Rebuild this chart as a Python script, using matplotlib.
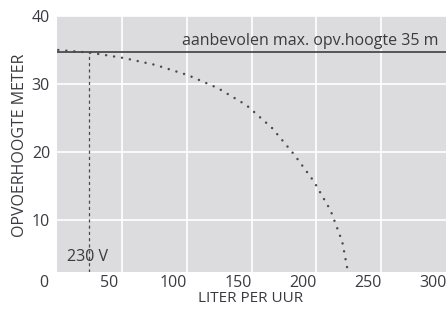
import matplotlib

matplotlib.use("Agg")
import matplotlib.pyplot as plt
import matplotlib.transforms as mtransforms

BG = "#dcdcde"
FG = "#3a3a40"
LINE = "#4a4a4e"

plt.rcParams.update({"font.family": ["Open Sans", "DejaVu Sans"], "font.size": 11})

# pump curve (230 V)
flow = [11, 36, 62, 86, 111, 134, 156, 176, 193, 208, 221, 230, 234]
head = [35.0, 34.6, 33.8, 32.8, 31.3, 29.4, 26.9, 23.5, 19.6, 15.7, 11.4, 6.8, 2.75]
max_head = 34.7
op_flow = 34.7
x_labels = [0, 50, 100, 150, 200, 250, 300]
x_grid = [60, 110, 160, 210, 260]
y_ticks = [10, 20, 30, 40]

fig = plt.figure(figsize=(4.46, 3.13), dpi=100)
ax = fig.add_axes([57 / 446, 41 / 313, 389 / 446, 256 / 313])
ax.set_facecolor(BG)
ax.set_xlim(10, 310)
ax.set_ylim(2.35, 40)
for s in ax.spines.values():
    s.set_visible(False)

ax.set_xticks(x_grid)
ax.set_xticklabels([])
ax.set_yticks(y_ticks)
ax.tick_params(length=0, colors=FG, labelsize=11.5, pad=5)
ax.grid(True, color="white", lw=1.2)
ax.set_axisbelow(True)

# x labels sit a little left of the grid lines, as in the original
xtrans = mtransforms.blended_transform_factory(ax.transData, ax.transAxes)
for v in x_labels:
    ax.text(v, -0.043, str(v), transform=xtrans, ha="center", va="center",
            color=FG, fontsize=11.5, clip_on=False)

ax.axhline(max_head, color=LINE, lw=1.3)
ax.plot([op_flow, op_flow], [2.35, max_head], color=LINE, lw=0.9,
        linestyle=(0, (2.5, 2.5)))
ax.plot(flow, head, color=LINE, lw=1.8, linestyle=(0, (0.01, 3.2)),
        dash_capstyle="round")

ytrans = mtransforms.blended_transform_factory(ax.transAxes, ax.transData)
ax.text(0.98, max_head + 0.5, "aanbevolen max. opv.hoogte 35 m",
        transform=ytrans, ha="right", va="bottom", color=FG, fontsize=11.5)
ax.text(17.5, 3.4, "230 V", ha="left", va="bottom", color=FG, fontsize=11.5)

fig.text(251 / 446, 1 - 298 / 313, "LITER PER UUR", ha="center", va="center",
         color=FG, fontsize=11)
fig.text(20 / 446, 1 - 145 / 313, "OPVOERHOOGTE METER", ha="center", va="center",
         rotation=90, color=FG, fontsize=11.5)

fig.savefig("out.png", facecolor="white")
